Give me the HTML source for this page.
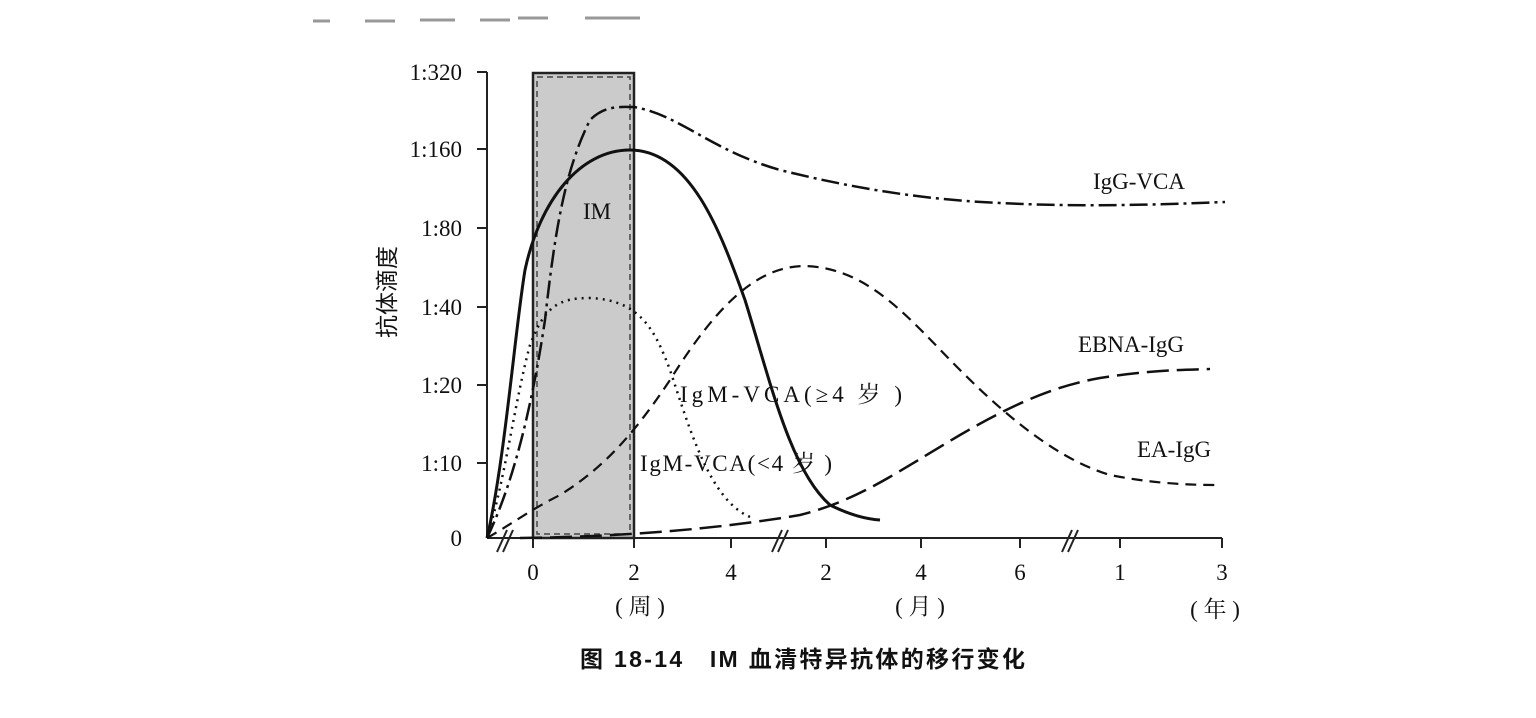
<!DOCTYPE html>
<html><head><meta charset="utf-8"><style>
body{margin:0;background:#fff;}
svg{display:block;font-family:"Liberation Serif","Noto Serif CJK SC",serif;}
</style></head><body>
<svg width="1536" height="718" viewBox="0 0 1536 718" xmlns="http://www.w3.org/2000/svg">
<g stroke="#555" stroke-width="3" opacity="0.6">
<line x1="313" y1="21" x2="330" y2="21"/><line x1="365" y1="21" x2="395" y2="21"/><line x1="420" y1="20" x2="455" y2="20"/><line x1="480" y1="20" x2="510" y2="20"/><line x1="518" y1="18" x2="548" y2="18"/><line x1="585" y1="18" x2="615" y2="18"/><line x1="615" y1="18" x2="640" y2="18"/>
</g>
<rect x="533" y="73" width="101" height="465" fill="#cbcbcb" stroke="#222" stroke-width="2.5"/>
<rect x="537" y="77" width="93" height="457" fill="none" stroke="#444" stroke-width="1.5" stroke-dasharray="6,4"/>
<g stroke="#222" stroke-width="2" fill="none">
<line x1="487" y1="72" x2="487" y2="538"/>
<line x1="487" y1="538" x2="1222" y2="538"/>
<line x1="477" y1="72" x2="487" y2="72"/><line x1="477" y1="149" x2="487" y2="149"/><line x1="477" y1="228" x2="487" y2="228"/><line x1="477" y1="307" x2="487" y2="307"/><line x1="477" y1="385" x2="487" y2="385"/><line x1="477" y1="463" x2="487" y2="463"/>
<line x1="533" y1="538" x2="533" y2="548"/><line x1="634" y1="538" x2="634" y2="548"/><line x1="731" y1="538" x2="731" y2="548"/><line x1="826" y1="538" x2="826" y2="548"/><line x1="921" y1="538" x2="921" y2="548"/><line x1="1020" y1="538" x2="1020" y2="548"/><line x1="1120" y1="538" x2="1120" y2="548"/><line x1="1222" y1="538" x2="1222" y2="548"/>
<line x1="497" y1="552" x2="507" y2="530"/><line x1="503" y1="552" x2="513" y2="530"/>
<line x1="772" y1="552" x2="782" y2="530"/><line x1="778" y1="552" x2="788" y2="530"/>
<line x1="1062" y1="552" x2="1072" y2="530"/><line x1="1068" y1="552" x2="1078" y2="530"/>
</g>
<g fill="none" stroke="#111">
<path d="M487,538 C505,460 515,330 525,270 C540,200 580,150 630,150 C690,150 720,230 745,300 C770,380 790,470 830,505 C850,515 865,519 880,520" stroke-width="3"/>
<path d="M487,538 C510,490 530,420 545,320 C555,230 565,170 590,120 C605,105 620,107 634,107 C680,115 710,150 780,170 C860,190 930,200 1000,203 C1080,207 1150,205 1225,202" stroke-width="2.5" stroke-dasharray="18,5,3,5"/>
<path d="M487,538 C505,480 515,400 530,345 C545,305 560,298 590,298 C640,300 655,330 670,370 C690,430 710,500 750,517" stroke-width="2.5" stroke-dasharray="2,5"/>
<path d="M487,538 C510,525 530,510 560,495 C600,470 630,440 670,380 C720,300 760,266 805,266 C870,268 910,320 960,370 C1010,420 1060,460 1110,475 C1160,485 1200,485 1220,485" stroke-width="2.2" stroke-dasharray="11,7"/>
<path d="M520,538 C600,537 700,532 800,515 C860,500 900,470 960,435 C1020,400 1060,385 1100,378 C1150,370 1180,370 1210,369" stroke-width="2.5" stroke-dasharray="22,8"/>
</g>
<g font-size="23" fill="#111">
<g text-anchor="end"><text x="462" y="80">1:320</text><text x="462" y="157">1:160</text><text x="462" y="236">1:80</text><text x="462" y="315">1:40</text><text x="462" y="393">1:20</text><text x="462" y="471">1:10</text><text x="462" y="546">0</text></g>
<g text-anchor="middle"><text x="533" y="580">0</text><text x="634" y="580">2</text><text x="731" y="580">4</text><text x="826" y="580">2</text><text x="921" y="580">4</text><text x="1020" y="580">6</text><text x="1120" y="580">1</text><text x="1222" y="580">3</text>
<text x="640" y="614">( 周 )</text><text x="920" y="614">( 月 )</text><text x="1215" y="617">( 年 )</text></g>
<text x="583" y="219">IM</text>
<text x="1093" y="189">IgG-VCA</text>
<text x="1078" y="352">EBNA-IgG</text>
<text x="1137" y="457">EA-IgG</text>
<text x="680" y="402" textLength="222">IgM-VCA(≥4 岁 )</text>
<text x="640" y="471" textLength="192">IgM-VCA(&lt;4 岁 )</text>
<text transform="translate(395,338) rotate(-90)" font-family="'Noto Sans CJK SC',sans-serif" font-size="23">抗体滴度</text>
<text x="580" y="667" font-family="'Liberation Sans','Noto Sans CJK SC',sans-serif" font-size="23" font-weight="bold" textLength="445">图 18-14　IM 血清特异抗体的移行变化</text>
</g>
</svg>
</body></html>
